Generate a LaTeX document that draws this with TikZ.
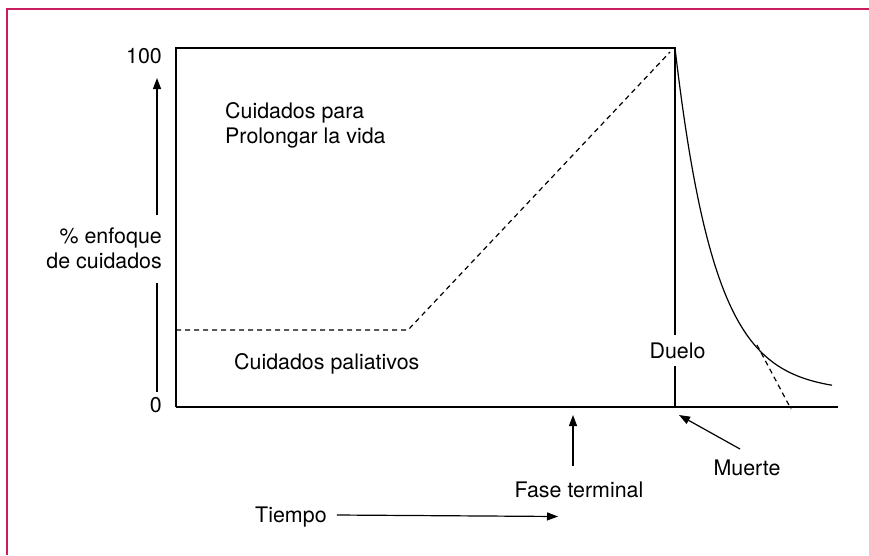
\documentclass[tikz,border=0pt]{standalone}
\usepackage{fontspec}
\setmainfont{TeX Gyre Heros}
\usetikzlibrary{arrows.meta}
\definecolor{marco}{RGB}{200,30,95}
\tikzset{
  etiq/.style={font=\fontsize{21.4}{25}\selectfont,inner sep=0pt},
  linea/.style={line width=1.2pt},
  guion/.style={line width=1.2pt,dash pattern=on 5pt off 4pt}
}
\begin{document}
\begin{tikzpicture}[x=1pt,y=-1pt,>={Triangle[length=11pt,width=8pt]}]
			\useasboundingbox (0,0) rectangle (869,555);
			\draw[marco,line width=2pt] (6.5,555) -- (6.5,9) -- (869,9);
			% marco del grafico
			\coordinate (O) at (176,407);
			\coordinate (A) at (176,48);
			\coordinate (B) at (675,48);
			\coordinate (M) at (675,407);
			\coordinate (E) at (838,407);
			\node[etiq,anchor=base,inner sep=7.5pt] (duelo) at (677.5,358) {Duelo};
			\draw[linea] (O) -- (A) -- (B) -- (duelo.north -| B);
			\draw[linea] (duelo.south -| B) -- (M);
			\draw[line width=2.2pt] (O) -- (M);
			\draw[linea] (M) -- (E);
			% eje vertical
			\node[etiq,anchor=base east] (cien) at (162,63) {100};
			\node[etiq,anchor=base east] (cero) at (162,412) {0};
			\node[etiq,anchor=base east] (enfA) at (162,243) {\% enfoque};
			\node[etiq,anchor=base east] (enfB) at (162,268) {de cuidados};
			\coordinate (y1) at (157,215);
			\coordinate (y2) at (157,78);
			\coordinate (y3) at (157,283);
			\coordinate (y4) at (157,392);
			\draw[->,linea] (y1) -- (y2);
			\draw[linea] (y3) -- (y4);
			% textos del interior
			\node[etiq,anchor=base west] (prolA) at (225,118) {Cuidados para};
			\node[etiq,anchor=base west] (prolB) at (225,143) {Prolongar la vida};
			\node[etiq,anchor=base west] (paliat) at (234,369) {Cuidados paliativos};
			% lineas de cuidados
			\coordinate (p1) at (176,330);
			\coordinate (p2) at (408,330);
			\coordinate (p3) at (670,52);
			\draw[guion] (p1) -- (p2) -- (p3);
			\draw[linea,smooth,samples=120,domain=675:832] plot(\x,{392-344*exp(-(\x-675)/40)});
			\coordinate (t1) at (757,345);
			\coordinate (t2) at (791,409);
			\draw[guion] (t1) -- (t2);
			% flechas de abajo
			\node[etiq,anchor=base] (muerte) at (747,475) {Muerte};
			\coordinate (m1) at (740,449);
			\coordinate (m2) at (679,415);
			\draw[->,linea] (m1) -- (m2);
			\node[etiq,anchor=base] (fase) at (579,497) {Fase terminal};
			\coordinate (f1) at (573,466);
			\coordinate (f2) at (573,415);
			\draw[->,linea] (f1) -- (f2);
			\node[etiq,anchor=base west] (tiempo) at (255,522) {Tiempo};
			\coordinate (t3) at (558,516.5);
			\draw[->,linea] ([xshift=10pt,yshift=7pt]tiempo.base east) -- (t3);
			\end{tikzpicture}
\end{document}
